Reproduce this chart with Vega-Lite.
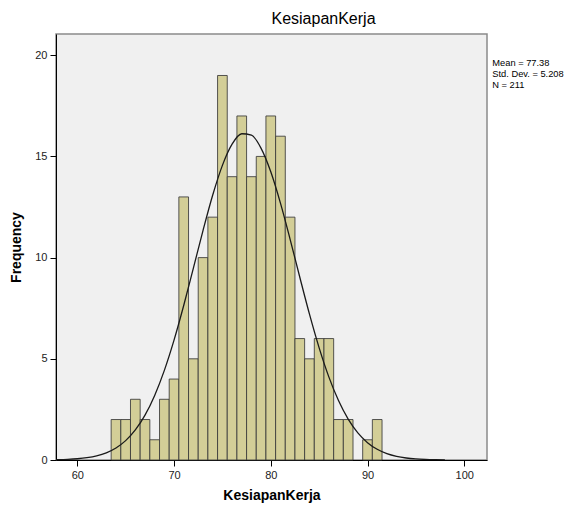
{
  "$schema": "https://vega.github.io/schema/vega-lite/v6.json",
  "width": 431,
  "height": 426,
  "autosize": {"type": "none"},
  "padding": {"left": 56, "top": 34, "right": 100, "bottom": 48},
  "background": "white",
  "view": {"stroke": "#8a8a8a", "strokeWidth": 1.5, "fill": "#F0F0F0"},
  "title": {"text": "KesiapanKerja", "fontSize": 16, "fontWeight": "normal", "anchor": "middle", "frame": "group", "dx": 52, "offset": 7, "color": "#000000", "font": "Liberation Sans"},
  "config": {
    "font": "Liberation Sans",
    "axis": {"grid": false, "domainColor": "#000000", "tickColor": "#000000", "labelColor": "#222222", "titleColor": "#000000", "labelFontSize": 11, "titleFontSize": 14, "titleFontWeight": "bold", "tickSize": 6, "labelPadding": 3}
  },
  "datasets": {
    "bars": [
      {"lo": 63.5, "hi": 64.5, "count": 2},
      {"lo": 64.5, "hi": 65.5, "count": 2},
      {"lo": 65.5, "hi": 66.5, "count": 3},
      {"lo": 66.5, "hi": 67.5, "count": 2},
      {"lo": 67.5, "hi": 68.5, "count": 1},
      {"lo": 68.5, "hi": 69.5, "count": 3},
      {"lo": 69.5, "hi": 70.5, "count": 4},
      {"lo": 70.5, "hi": 71.5, "count": 13},
      {"lo": 71.5, "hi": 72.5, "count": 5},
      {"lo": 72.5, "hi": 73.5, "count": 10},
      {"lo": 73.5, "hi": 74.5, "count": 12},
      {"lo": 74.5, "hi": 75.5, "count": 19},
      {"lo": 75.5, "hi": 76.5, "count": 14},
      {"lo": 76.5, "hi": 77.5, "count": 17},
      {"lo": 77.5, "hi": 78.5, "count": 14},
      {"lo": 78.5, "hi": 79.5, "count": 15},
      {"lo": 79.5, "hi": 80.5, "count": 17},
      {"lo": 80.5, "hi": 81.5, "count": 16},
      {"lo": 81.5, "hi": 82.5, "count": 12},
      {"lo": 82.5, "hi": 83.5, "count": 6},
      {"lo": 83.5, "hi": 84.5, "count": 5},
      {"lo": 84.5, "hi": 85.5, "count": 6},
      {"lo": 85.5, "hi": 86.5, "count": 6},
      {"lo": 86.5, "hi": 87.5, "count": 2},
      {"lo": 87.5, "hi": 88.5, "count": 2},
      {"lo": 89.5, "hi": 90.5, "count": 1},
      {"lo": 90.5, "hi": 91.5, "count": 2}
    ],
    "curve": [
      {"score": 57, "freq": 0.0076},
      {"score": 58, "freq": 0.0159},
      {"score": 59, "freq": 0.0319},
      {"score": 60, "freq": 0.0617},
      {"score": 61, "freq": 0.115},
      {"score": 62, "freq": 0.206},
      {"score": 63, "freq": 0.357},
      {"score": 64, "freq": 0.596},
      {"score": 65, "freq": 0.958},
      {"score": 66, "freq": 1.485},
      {"score": 67, "freq": 2.217},
      {"score": 68, "freq": 3.192},
      {"score": 69, "freq": 4.429},
      {"score": 70, "freq": 5.922},
      {"score": 71, "freq": 7.633},
      {"score": 72, "freq": 9.48},
      {"score": 73, "freq": 11.348},
      {"score": 74, "freq": 13.093},
      {"score": 75, "freq": 14.559},
      {"score": 76, "freq": 15.605},
      {"score": 77, "freq": 16.12},
      {"score": 78, "freq": 16.049},
      {"score": 79, "freq": 15.4},
      {"score": 80, "freq": 14.242},
      {"score": 81, "freq": 12.694},
      {"score": 82, "freq": 10.906},
      {"score": 83, "freq": 9.03},
      {"score": 84, "freq": 7.205},
      {"score": 85, "freq": 5.542},
      {"score": 86, "freq": 4.108},
      {"score": 87, "freq": 2.936},
      {"score": 88, "freq": 2.021},
      {"score": 89, "freq": 1.341},
      {"score": 90, "freq": 0.858},
      {"score": 91, "freq": 0.529},
      {"score": 92, "freq": 0.314},
      {"score": 93, "freq": 0.18},
      {"score": 94, "freq": 0.0993},
      {"score": 95, "freq": 0.0529},
      {"score": 96, "freq": 0.0271},
      {"score": 97, "freq": 0.0134},
      {"score": 98, "freq": 0.0064}
    ],
    "stats": [
      {"stat": "Mean = 77.38"},
      {"stat": "Std. Dev. = 5.208"},
      {"stat": "N = 211"}
    ]
  },
  "layer": [
    {
      "data": {"name": "bars"},
      "mark": {"type": "rect", "fill": "#D3CE97", "stroke": "#3a3a3a", "strokeWidth": 1, "strokeOpacity": 0.85},
      "encoding": {
        "x": {"field": "lo", "type": "quantitative", "scale": {"domain": [57.8, 102.35], "nice": false, "zero": false}, "axis": {"values": [60, 70, 80, 90, 100], "title": "KesiapanKerja", "titlePadding": 8}},
        "x2": {"field": "hi"},
        "y": {"field": "count", "type": "quantitative", "scale": {"domain": [0, 21.05], "nice": false}, "axis": {"values": [0, 5, 10, 15, 20], "title": "Frequency", "titlePadding": 11}},
        "y2": {"datum": 0}
      }
    },
    {
      "data": {"name": "curve"},
      "mark": {"type": "line", "color": "#1a1a1a", "strokeWidth": 1.3, "interpolate": "monotone", "clip": true},
      "encoding": {
        "x": {"field": "score", "type": "quantitative", "axis": {"values": [60, 70, 80, 90, 100], "title": "KesiapanKerja", "titlePadding": 8}},
        "y": {"field": "freq", "type": "quantitative", "axis": {"values": [0, 5, 10, 15, 20], "title": "Frequency", "titlePadding": 11}}
      }
    },
    {
      "data": {"name": "stats"},
      "mark": {"type": "point", "opacity": 0},
      "encoding": {
        "color": {"field": "stat", "type": "nominal", "scale": {"domain": ["Mean = 77.38", "Std. Dev. = 5.208", "N = 211"], "range": ["#000000", "#000000", "#000000"]},
          "legend": {"title": null, "orient": "none", "legendX": 427, "legendY": 24, "padding": 0, "symbolSize": 0, "symbolOpacity": 0, "symbolStrokeWidth": 0, "labelOffset": 0, "labelFontSize": 9.3, "labelColor": "#000000", "rowPadding": 1.3, "labelFont": "Liberation Sans"}}
      }
    }
  ]
}
